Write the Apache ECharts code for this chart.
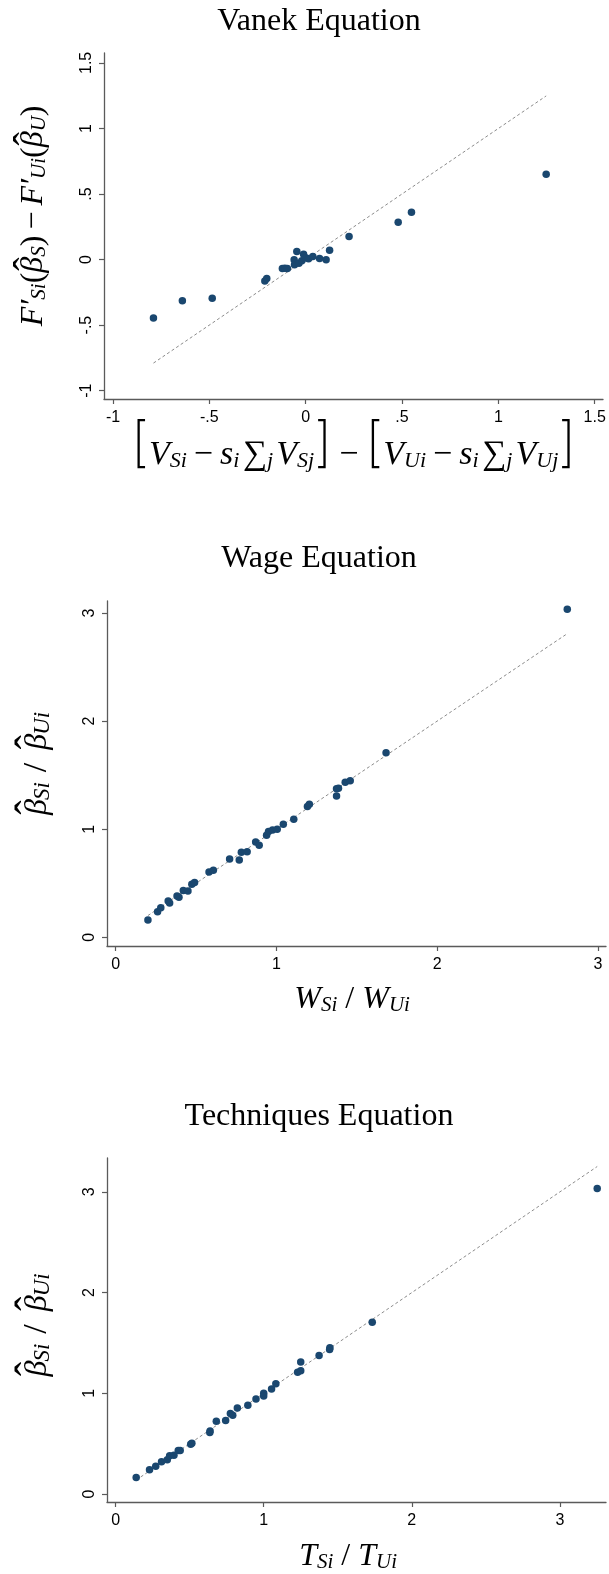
<!DOCTYPE html>
<html>
<head>
<meta charset="utf-8">
<script src="https://cdn.jsdelivr.net/npm/echarts@6/dist/echarts.min.js"></script>
<style>
html,body{margin:0;padding:0;background:#fff;}
#c{width:609px;height:1574px;}
</style>
</head>
<body>
<div id="c"></div>
<script>
// ---- data ----
const vanekX = [-0.79, -0.64, -0.485, -0.212, -0.202, -0.121, -0.108, -0.095, -0.060, -0.058, -0.046, -0.035, -0.020, -0.011, 0.003, 0.015, 0.037, 0.072, 0.106, 0.124, 0.225, 0.48, 0.549, 1.248];
const vanekY = [-0.447, -0.315, -0.295, -0.163, -0.145, -0.069, -0.066, -0.069, -0.002, -0.040, 0.061, -0.028, -0.010, 0.041, 0.011, 0.005, 0.023, 0.008, -0.002, 0.070, 0.175, 0.285, 0.361, 0.650];

const wageX = [0.201, 0.261, 0.281, 0.327, 0.336, 0.382, 0.394, 0.421, 0.450, 0.474, 0.491, 0.581, 0.608, 0.709, 0.769, 0.782, 0.818, 0.871, 0.893, 0.939, 0.951, 0.976, 1.005, 1.043, 1.108, 1.193, 1.205, 1.374, 1.386, 1.374, 1.428, 1.459, 1.682, 2.809];
const wageY = [0.160, 0.237, 0.274, 0.336, 0.318, 0.382, 0.370, 0.432, 0.429, 0.490, 0.506, 0.604, 0.620, 0.725, 0.715, 0.786, 0.792, 0.882, 0.851, 0.944, 0.978, 0.993, 0.999, 1.045, 1.092, 1.209, 1.230, 1.375, 1.378, 1.307, 1.434, 1.449, 1.708, 3.034];

const techX = [0.139, 0.229, 0.271, 0.310, 0.349, 0.365, 0.394, 0.423, 0.436, 0.507, 0.515, 0.636, 0.638, 0.680, 0.743, 0.775, 0.791, 0.822, 0.893, 0.948, 1.000, 1.000, 1.053, 1.082, 1.229, 1.250, 1.250, 1.374, 1.445, 1.447, 1.733, 3.252];
const techY = [0.165, 0.241, 0.277, 0.320, 0.340, 0.380, 0.386, 0.432, 0.432, 0.495, 0.505, 0.611, 0.627, 0.723, 0.729, 0.799, 0.782, 0.855, 0.881, 0.944, 1.000, 0.974, 1.043, 1.096, 1.208, 1.224, 1.310, 1.376, 1.436, 1.452, 1.706, 3.033];

const vanekTicks = [-1, -0.5, 0, 0.5, 1, 1.5];
const ratioTicks = [0, 1, 2, 3];

const titles = ['Vanek Equation', 'Wage Equation', 'Techniques Equation'];

// ---- helpers ----
const NAVY = '#1a476f';
const AX = '#5a5a5a';
const SERIF = '"Liberation Serif", "DejaVu Serif", serif';
const SANS = '"Liberation Sans", Arial, sans-serif';
const fmt = v => String(v).replace(/^(-?)0\./, '$1.');
const pairs = (xs, ys) => xs.map((x, i) => [x, ys[i]]);
const diag = xs => { const a = Math.min(...xs), b = Math.max(...xs); return [[a, a], [b, b]]; };

const rich = {
  h:   {fontSize: 1, lineHeight: 60, verticalAlign: 'middle'},
  m:   {fontFamily: SERIF, fontStyle: 'italic', fontSize: 32, lineHeight: 40, verticalAlign: 'bottom', color: '#000'},
  r:   {fontFamily: SERIF, fontSize: 32, lineHeight: 40, verticalAlign: 'bottom', color: '#000'},
  op:  {fontFamily: SERIF, fontSize: 32, lineHeight: 40, verticalAlign: 'bottom', color: '#000', padding: [0, 6, 0, 6]},
  s:   {fontFamily: SERIF, fontStyle: 'italic', fontSize: 21, lineHeight: 24, verticalAlign: 'bottom', color: '#000'},
  hat: {fontFamily: SERIF, fontSize: 40, lineHeight: 58, verticalAlign: 'bottom', color: '#000', width: 15, padding: [0, 0, 0, -15]}
};
const richR = {
  h:   {fontSize: 1, lineHeight: 68, verticalAlign: 'middle'},
  m:   {fontFamily: SERIF, fontStyle: 'italic', fontSize: 32, lineHeight: 40, verticalAlign: 'bottom', color: '#000', padding: [0, 2, 0, 2]},
  op:  {fontFamily: SERIF, fontSize: 34, lineHeight: 40, verticalAlign: 'bottom', color: '#000', padding: [0, 11, 0, 10]},
  s:   {fontFamily: SERIF, fontStyle: 'italic', fontSize: 23, lineHeight: 25, verticalAlign: 'bottom', color: '#000'},
  hat: {fontFamily: SERIF, fontSize: 42, lineHeight: 66, verticalAlign: 'bottom', color: '#000', width: 15, padding: [0, 0, 0, -18]}
};
const richV = {
  h:   {fontSize: 1, lineHeight: 62, verticalAlign: 'middle'},
  m:   {fontFamily: SERIF, fontStyle: 'italic', fontSize: 34, lineHeight: 42, verticalAlign: 'bottom', color: '#000'},
  r:   {fontFamily: SERIF, fontSize: 34, lineHeight: 42, verticalAlign: 'bottom', color: '#000'},
  op:  {fontFamily: SERIF, fontSize: 34, lineHeight: 42, verticalAlign: 'bottom', color: '#000', padding: [0, 7, 0, 7]},
  s:   {fontFamily: SERIF, fontStyle: 'italic', fontSize: 22, lineHeight: 25, verticalAlign: 'bottom', color: '#000'},
  br:  {fontFamily: 'Inter, "DejaVu Sans", sans-serif', fontWeight: 200, fontSize: 54, lineHeight: 54, verticalAlign: 'bottom', color: '#000'}
};

const xNameVanek = '{h| }{br|[}{m|V}{s|Si}{op|−}{m|s}{s|i} {r|∑}{s|j} {m|V}{s|Sj}{br|]}{op|−}{br|[}{m|V}{s|Ui}{op|−}{m|s}{s|i} {r|∑}{s|j} {m|V}{s|Uj}{br|]}';
const yNameVanek = '{h| }{m|F′}{s|Si}{r|(}{m|β}{hat|ˆ}{s|S}{r|)}{op|−}{m|F′}{s|Ui}{r|(}{m|β}{hat|ˆ}{s|U}{r|)}';
const yNameRatio = '{h| }{m|β}{hat|ˆ}{s|Si}{op|/}{m|β}{hat|ˆ}{s|Ui}';
const xNameWage = '{h| }{m|W}{s|Si}{r| / }{m|W}{s|Ui}';
const xNameTech = '{h| }{m|T}{s|Si}{r| / }{m|T}{s|Ui}';

function xAxis(gi, min, max, ticks, name, nameGap, pad, richStyle) {
  return {
    type: 'value', gridIndex: gi, min, max,
    axisLine: {show: true, onZero: false, lineStyle: {color: AX, width: 1.3}},
    axisTick: {show: true, length: 5, customValues: ticks, lineStyle: {color: AX, width: 1.2}},
    axisLabel: {customValues: ticks, formatter: fmt, fontFamily: SANS, fontSize: 16, color: '#000', margin: 11},
    splitLine: {show: false},
    name, nameLocation: 'middle', nameGap, nameMoveOverlap: false,
    nameTextStyle: {rich: richStyle, padding: pad}
  };
}
function yAxis(gi, min, max, ticks, name, nameGap, pad, richStyle) {
  return {
    type: 'value', gridIndex: gi, min, max,
    axisLine: {show: true, onZero: false, lineStyle: {color: AX, width: 1.3}},
    axisTick: {show: true, length: 5, customValues: ticks, lineStyle: {color: AX, width: 1.2}},
    axisLabel: {customValues: ticks, formatter: fmt, fontFamily: SANS, fontSize: 16, color: '#000', margin: 9, rotate: 90},
    splitLine: {show: false},
    name, nameLocation: 'middle', nameRotate: 90, nameGap, nameMoveOverlap: false,
    nameTextStyle: {rich: richStyle, padding: pad}
  };
}
function scatter(i, xs, ys) {
  return {type: 'scatter', xAxisIndex: i, yAxisIndex: i, data: pairs(xs, ys), symbolSize: 7.5,
    itemStyle: {color: NAVY, opacity: 1}, z: 3};
}
function diagLine(i, xs) {
  return {type: 'line', xAxisIndex: i, yAxisIndex: i, data: diag(xs), symbol: 'none',
    lineStyle: {color: '#8c8c8c', width: 1, type: [3, 2.5]}, z: 2, silent: true};
}

const chart = echarts.init(document.getElementById('c'), null, {renderer: 'canvas'});
chart.setOption({
  animation: false,
  backgroundColor: '#fff',
  grid: [
    {left: 104, top: 53, width: 499, height: 346},
    {left: 107, top: 601, width: 499, height: 345},
    {left: 107, top: 1158, width: 499, height: 345}
  ],
  xAxis: [
    xAxis(0, -1.0467, 1.5429, vanekTicks, xNameVanek, 11, [0, 0, 0, 0], richV),
    xAxis(1, -0.0535, 3.0498, ratioTicks, xNameWage, 10, [0, 9, 0, 0], rich),
    xAxis(2, -0.0581, 3.3113, ratioTicks, xNameTech, 11, [0, 17, 0, 0], rich)
  ],
  yAxis: [
    yAxis(0, -1.0640, 1.5755, vanekTicks, yNameVanek, 54, [0, 0, 0, 20], rich),
    yAxis(1, -0.0805, 3.1110, ratioTicks, yNameRatio, 53, [0, 0, 0, 18], richR),
    yAxis(2, -0.0792, 3.3366, ratioTicks, yNameRatio, 53, [0, 0, 0, 8], richR)
  ],
  series: [
    diagLine(0, vanekX), scatter(0, vanekX, vanekY),
    diagLine(1, wageX), scatter(1, wageX, wageY),
    diagLine(2, techX), scatter(2, techX, techY)
  ],
  graphic: [
    {type: 'text', x: 319, y: 22, style: {text: titles[0], font: '32px ' + SERIF, fill: '#000', textAlign: 'center', textVerticalAlign: 'middle'}},
    {type: 'text', x: 319, y: 559, style: {text: titles[1], font: '32px ' + SERIF, fill: '#000', textAlign: 'center', textVerticalAlign: 'middle'}},
    {type: 'text', x: 319, y: 1117, style: {text: titles[2], font: '32px ' + SERIF, fill: '#000', textAlign: 'center', textVerticalAlign: 'middle'}}
  ]
});
</script>
</body>
</html>
